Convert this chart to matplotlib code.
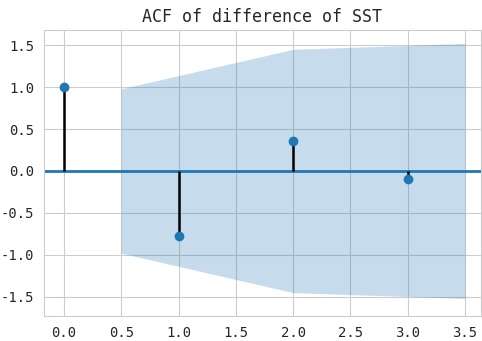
import numpy as np
import matplotlib
matplotlib.use("Agg")
import matplotlib.pyplot as plt
import seaborn as sns

# ACF values per lag
lags = [0, 1, 2, 3]
acf_vals = [1.0, -0.77, 0.36, -0.09]

# confidence band (Bartlett) edges
band_x = [0.5, 2.0, 3.5]
band_half = [0.98, 1.45, 1.52]

sns.set_style("whitegrid")
plt.rcParams['font.family'] = ['DejaVu Sans Mono', 'Noto Sans CJK SC']
plt.rcParams['axes.unicode_minus'] = False

fig = plt.figure(figsize=(4.82, 3.41), dpi=100)
ax = fig.add_axes([0.091, 0.073, 0.907, 0.839])

ax.fill_between(band_x, [-h for h in band_half], band_half,
                color="C0", alpha=0.25, linewidth=0)
ax.axhline(0, color="C0", linewidth=2)
ax.vlines(lags, [0] * len(lags), acf_vals, color="black", linewidth=1.8)
ax.plot(lags, acf_vals, "o", color="C0", markersize=6)

ax.set_xlim(-0.175, 3.64)
ax.set_ylim(-1.73, 1.68)
ax.set_xticks(np.arange(0, 3.6, 0.5))
ax.set_yticks(np.arange(-1.5, 1.6, 0.5))
ax.tick_params(labelsize=10)
ax.set_title("ACF of difference of SST", fontsize=12)

fig.savefig("out.png", dpi=100)
